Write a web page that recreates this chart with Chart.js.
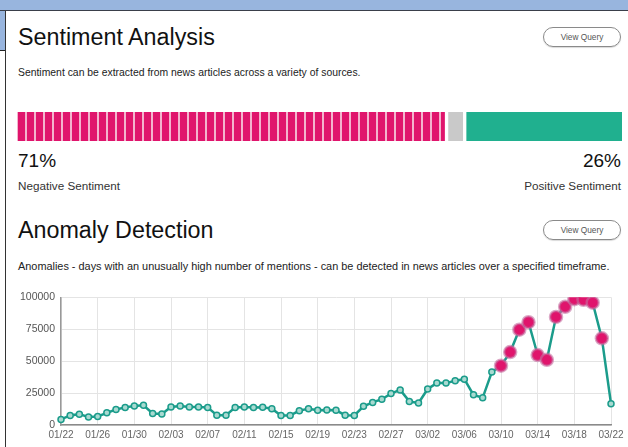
<!DOCTYPE html>
<html lang="en">
<head>
<meta charset="UTF-8">
<title>Sentiment Analysis / Anomaly Detection</title>
<style>
  /* page frame */
  body { margin:0; width:628px; height:447px; overflow:hidden; background:#fff; font-family:'Liberation Sans', Arial, sans-serif; color:#111; position:relative; }
  .topband { position:absolute; left:0; top:0; width:628px; height:10px; background:#98b5de; border-bottom:1px solid #3a3f4a; }
  .sideband { position:absolute; left:0; top:11px; width:5px; height:39px; background:#98b5de; border-bottom:1px solid #222; }
  .panel { position:absolute; left:5px; top:11px; width:623px; height:436px; border-left:1px solid #333; }

  /* text blocks */
  .abs { position:absolute; line-height:1; white-space:nowrap; margin:0; }
  h2.abs { font-weight:normal; font-size:23.3px; color:#111; left:18px; }
  .sub { font-size:10.9px; color:#222; left:18px; }
  .pct { font-size:19px; color:#111; }
  .cap { font-size:11.7px; color:#333; }
  .right { right:7px; text-align:right; }
  .pill { position:absolute; left:543px; width:76px; height:18px; border:1px solid #8a8a8a; border-radius:10px; font-size:8.3px; color:#555; text-align:center; line-height:18px; box-shadow:0 1px 1px rgba(0,0,0,.15); }

  canvas { position:absolute; left:0; }
</style>
</head>
<body>
  <div class="topband"></div>
  <div class="sideband"></div>
  <div class="panel"></div>

  <!-- Sentiment -->
  <h2 class="abs" style="top:26px;">Sentiment Analysis</h2>
  <div class="pill" style="top:27px;">View Query</div>
  <div class="abs sub" style="top:68px; font-size:10.4px;">Sentiment can be extracted from news articles across a variety of sources.</div>
  <canvas id="sentiment" width="628" height="29" style="top:112px;"></canvas>
  <div class="abs pct" id="negPct" style="left:18px; top:151px;"></div>
  <div class="abs pct right" id="posPct" style="top:151px;"></div>
  <div class="abs cap" style="left:18px; top:180px;">Negative Sentiment</div>
  <div class="abs cap right" style="top:180px;">Positive Sentiment</div>

  <!-- Anomaly -->
  <h2 class="abs" style="top:219px;">Anomaly Detection</h2>
  <div class="pill" style="top:220px;">View Query</div>
  <div class="abs sub" style="top:261px;">Anomalies - days with an unusually high number of mentions - can be detected in news articles over a specified timeframe.</div>
  <canvas id="trend" width="628" height="162" style="top:285px;"></canvas>

  <script src="https://cdn.jsdelivr.net/npm/chart.js"></script>
  <script>
    // ---- data ----
    const sentimentLabels = ['Negative', 'Neutral', 'Positive'];
    const sentimentValues = [71, 3, 26];

    const dates = [
      '01/22','01/23','01/24','01/25','01/26','01/27','01/28','01/29','01/30','01/31',
      '02/01','02/02','02/03','02/04','02/05','02/06','02/07','02/08','02/09','02/10',
      '02/11','02/12','02/13','02/14','02/15','02/16','02/17','02/18','02/19','02/20',
      '02/21','02/22','02/23','02/24','02/25','02/26','02/27','02/28','02/29','03/01',
      '03/02','03/03','03/04','03/05','03/06','03/07','03/08','03/09','03/10','03/11',
      '03/12','03/13','03/14','03/15','03/16','03/17','03/18','03/19','03/20','03/21',
      '03/22'
    ];
    const mentions = [
      4400, 7500, 8500, 6200, 6700, 9500, 12100, 13800, 14800, 15400,
      9000, 8700, 14100, 14800, 14100, 14100, 13800, 7700, 7700, 13800,
      14000, 13800, 13900, 12800, 7500, 7500, 11200, 12800, 11500, 11800,
      11500, 7700, 7500, 14600, 17700, 20200, 24600, 27500, 18500, 17200,
      28200, 32800, 32800, 34600, 35900, 23600, 21300, 41500, 46400, 57100,
      74600, 80500, 54800, 51000, 84600, 92600, 98500, 98000, 95800, 67900,
      16700
    ];
    const anomalyDates = ['03/10','03/11','03/12','03/13','03/14','03/15','03/16','03/17','03/18','03/19','03/20','03/21'];
    const yTicks = [0, 25000, 50000, 75000, 100000];

    const PINK = '#e0146c', TEAL = '#1b9c8b', GREEN = '#20b08f', GREY = '#c9c9c9';

    document.getElementById('negPct').textContent = sentimentValues[0] + '%';
    document.getElementById('posPct').textContent = sentimentValues[2] + '%';

    // striped fill for the negative segment
    function stripes() {
      const c = document.createElement('canvas');
      c.width = 9; c.height = 4;
      const g = c.getContext('2d');
      g.fillStyle = PINK; g.fillRect(0, 0, 9, 4);
      g.fillStyle = '#f3b3cd'; g.fillRect(7, 0, 2, 4);
      return g.createPattern(c, 'repeat');
    }

    const segFill = [stripes(), GREY, GREEN];
    const segBorder = [{right:2}, {left:2, right:2}, {left:2}];

    new Chart(document.getElementById('sentiment'), {
      type: 'bar',
      data: {
        labels: [''],
        datasets: sentimentLabels.map((lab, i) => ({
          label: lab, data: [sentimentValues[i]],
          backgroundColor: segFill[i], borderColor: '#fff',
          borderWidth: segBorder[i], borderSkipped: false,
          barPercentage: 1, categoryPercentage: 1
        }))
      },
      options: {
        indexAxis: 'y', responsive: false, animation: false,
        layout: { padding: { left: 17, right: 6, top: 0, bottom: 0 } },
        plugins: { legend: { display: false }, tooltip: { enabled: false } },
        scales: {
          x: { stacked: true, min: 0, max: 100, display: false },
          y: { stacked: true, display: false }
        }
      }
    });

    const isAnom = i => anomalyDates.includes(dates[i]);

    new Chart(document.getElementById('trend'), {
      type: 'line',
      data: {
        labels: dates,
        datasets: [{
          data: mentions,
          borderColor: TEAL, borderWidth: 2.5, tension: 0,
          pointRadius: ctx => isAnom(ctx.dataIndex) ? 6 : 3,
          pointBackgroundColor: ctx => isAnom(ctx.dataIndex) ? PINK : '#a9dad1',
          pointBorderColor: ctx => isAnom(ctx.dataIndex) ? 'rgba(196,110,160,0.6)' : TEAL,
          pointBorderWidth: ctx => isAnom(ctx.dataIndex) ? 2.5 : 1.5
        }]
      },
      options: {
        responsive: false, animation: false,
        layout: { padding: { top: 10, right: 17, left: 0, bottom: 0 } },
        plugins: { legend: { display: false }, tooltip: { enabled: false } },
        scales: {
          x: {
            grid: { color: ctx => ctx.index % 4 === 0 ? '#e4e4e4' : 'rgba(0,0,0,0)', drawTicks: false },
            border: { color: '#8a8a8a', width: 1.5 },
            ticks: { autoSkip: false, maxRotation: 0, padding: 4, color: '#666', font: { size: 10 },
                     callback: (v, i) => i % 4 === 0 ? dates[i] : '' },
            afterFit: s => { s.height = 22; }
          },
          y: {
            min: 0, max: 100000,
            afterBuildTicks: s => { s.ticks = yTicks.map(v => ({ value: v })); },
            grid: { color: '#e4e4e4', drawTicks: false },
            border: { color: '#999', width: 1.5 },
            ticks: { padding: 6, color: '#555', font: { size: 10.5 }, callback: v => String(v) },
            afterFit: s => { s.width = 61; }
          }
        }
      }
    });
  </script>
</body>
</html>
